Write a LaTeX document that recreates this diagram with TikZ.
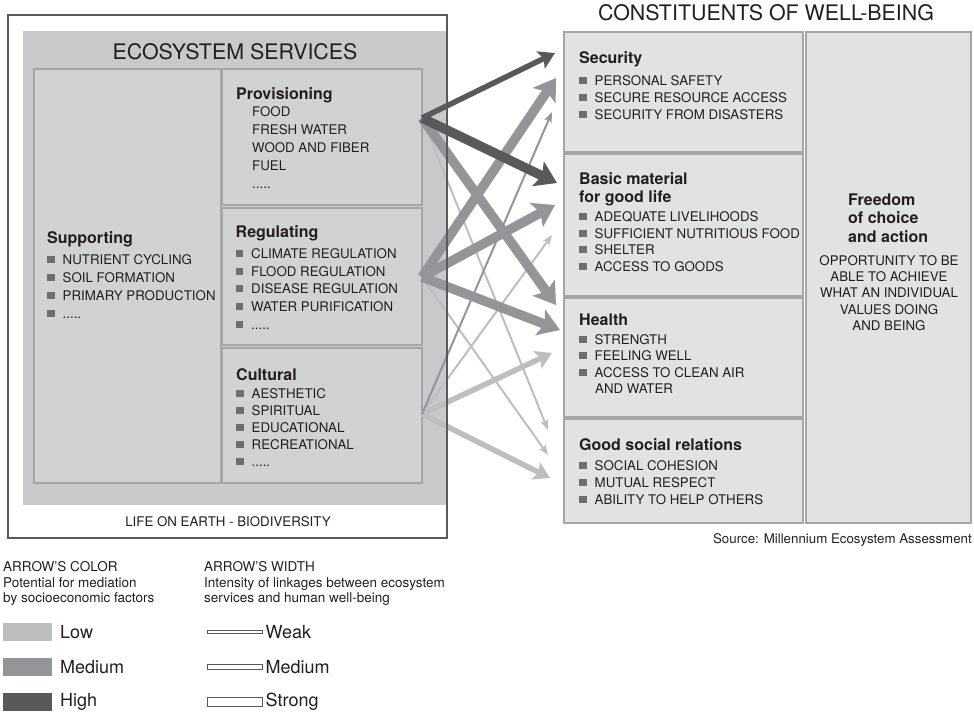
\documentclass[tikz,border=0pt]{standalone}
\usepackage{fontspec}
\setmainfont{TeX Gyre Heros}
\usetikzlibrary{arrows.meta}

\definecolor{ink}{HTML}{231F20}
\definecolor{frameline}{HTML}{58595B}
\definecolor{panel}{HTML}{C8C9CB}
\definecolor{esfill}{HTML}{D1D2D4}
\definecolor{wbfill}{HTML}{E1E2E4}
\definecolor{bevdark}{HTML}{88898B}
\definecolor{bevlight}{HTML}{A5A6A8}
\definecolor{bulletgray}{HTML}{6D6E70}
\definecolor{cLow}{HTML}{BCBEC0}
\definecolor{cMed}{HTML}{939598}
\definecolor{cHigh}{HTML}{58595B}

% small square bullet in front of list entries
\newcommand\sq{\textcolor{bulletgray}{\rule[1.5pt]{7.5pt}{7pt}}\hspace{8pt}}
% open-ended list marker
\newcommand\fivedots{.....}
% a column of text lines: x, first baseline, line step, entries
\newcommand\itemrows[4]{%
  \foreach \txt [count=\k from 0] in {#4} {\node[lbl] at ({#1},{#2+\k*#3}) {\txt};}}

\tikzset{
  x=1pt, y=-1pt,
  lbl/.style={anchor=base west, inner sep=0, text=ink, font=\fontsize{13.3}{15}\selectfont},
  ttl/.style={anchor=base west, inner sep=0, text=ink, font=\fontsize{16}{19}\selectfont\bfseries},
  bigttl/.style={anchor=base, inner sep=0, text=ink, font=\fontsize{21.4}{25}\selectfont},
  legtxt/.style={anchor=base west, inner sep=0, text=ink, font=\fontsize{13.5}{16}\selectfont},
  legbig/.style={anchor=west, inner sep=0, text=ink, font=\fontsize{18}{21}\selectfont},
  bevel/.style={draw=bevdark, double=bevlight, double distance=1.2pt, line width=0.7pt,
    anchor=north west, inner sep=0, outer sep=0},
  esbox/.style={bevel, fill=esfill},
  wbbox/.style={bevel, fill=wbfill},
  swatch/.style={anchor=north west, inner sep=0, outer sep=0, minimum width=49pt, minimum height=18pt},
  widthbar/.style={anchor=west, inner sep=0, outer sep=0, draw=frameline, fill=white,
    line width=0.8pt, minimum width=55pt},
  weakw/.style={line width=2pt, -{Stealth[length=10pt,width=7.5pt,inset=2pt]}},
  medw/.style={line width=5.5pt, -{Stealth[length=16pt,width=19pt,inset=3.5pt]}},
  strongw/.style={line width=9.5pt, -{Stealth[length=21pt,width=27pt,inset=4.5pt]}},
}

\begin{document}
\begin{tikzpicture}
\useasboundingbox (0,0) rectangle (974,715);

% ---------- ecosystem services ----------
\node[anchor=north west, inner sep=0, outer sep=0, fill=white,
  minimum width=439pt, minimum height=523pt] (life) at (8,15) {};
\node[anchor=north west, inner sep=0, outer sep=0, fill=panel,
  minimum width=424pt, minimum height=474pt] (es) at (23,31) {};
\node[bigttl] (esTitle) at (235,59.3) {ECOSYSTEM SERVICES};

\node[esbox, minimum width=187pt, minimum height=414pt] (supp) at (34,69) {};
\node[esbox, minimum width=200pt, minimum height=136pt] (prov) at (222,69) {};
\node[esbox, minimum width=200pt, minimum height=137pt] (regu) at (222,208) {};
\node[esbox, minimum width=200pt, minimum height=135pt] (cult) at (222,348) {};

\node[ttl] (suppT) at (47,243.3) {Supporting};
\itemrows{47}{264.3}{18}{\sq NUTRIENT CYCLING, \sq SOIL FORMATION, \sq PRIMARY PRODUCTION, \sq \fivedots}

\node[ttl] (provT) at (236,99) {Provisioning};
\itemrows{252}{116.7}{17.9}{FOOD, FRESH WATER, WOOD AND FIBER, FUEL, \fivedots}

\node[ttl] (reguT) at (235.5,237.3) {Regulating};
\itemrows{235.5}{258.3}{17.75}{\sq CLIMATE REGULATION, \sq FLOOD REGULATION, \sq DISEASE REGULATION, \sq WATER PURIFICATION, \sq \fivedots}

\node[ttl] (cultT) at (236,380) {Cultural};
\itemrows{236}{398.3}{17.1}{\sq AESTHETIC, \sq SPIRITUAL, \sq EDUCATIONAL, \sq RECREATIONAL, \sq \fivedots}

\node[lbl, anchor=base] (lifeT) at (228,526.7) {LIFE ON EARTH - BIODIVERSITY};

% ---------- constituents of well-being ----------
\node[bigttl] (wbTitle) at (766,20.5) {CONSTITUENTS OF WELL-BEING};

\node[wbbox, minimum width=239pt, minimum height=120pt] (sec) at (564,32) {};
\node[wbbox, minimum width=239pt, minimum height=142pt] (basic) at (564,154) {};
\node[wbbox, minimum width=239pt, minimum height=119pt] (health) at (564,298) {};
\node[wbbox, minimum width=239pt, minimum height=104pt] (social) at (564,419) {};
\node[wbbox, minimum width=165pt, minimum height=491pt] (free) at (806,32) {};

\node[ttl] (secT) at (579,63.3) {Security};
\itemrows{579}{85}{17.2}{\sq PERSONAL SAFETY, \sq SECURE RESOURCE ACCESS, \sq SECURITY FROM DISASTERS}

\node[ttl] (basicT) at (579,184) {Basic material};
\node[ttl] (basicT2) at (579,202.7) {for good life};
\itemrows{579}{221.7}{16.5}{\sq ADEQUATE LIVELIHOODS, \sq SUFFICIENT NUTRITIOUS FOOD, \sq SHELTER, \sq ACCESS TO GOODS}

\node[ttl] (healthT) at (579,325) {Health};
\itemrows{579}{344.3}{16.5}{\sq STRENGTH, \sq FEELING WELL, \sq ACCESS TO CLEAN AIR}
\node[lbl] (healthW) at (595,393.8) {AND WATER};

\node[ttl] (socialT) at (579,450.7) {Good social relations};
\itemrows{579}{470}{17}{\sq SOCIAL COHESION, \sq MUTUAL RESPECT, \sq ABILITY TO HELP OTHERS}

\node[ttl] (freeT1) at (848,205) {Freedom};
\node[ttl] (freeT2) at (848,223.5) {of choice};
\node[ttl] (freeT3) at (848,242.5) {and action};
\foreach \txt [count=\k from 0] in {OPPORTUNITY TO BE, ABLE TO ACHIEVE, WHAT AN INDIVIDUAL, VALUES DOING, AND BEING}
  {\node[lbl, anchor=base] at (889,{265.7+\k*16.1}) {\txt};}

\node[lbl, anchor=base east] (source) at (972,543.3) {Source: Millennium Ecosystem Assessment};

% ---------- linkages ----------
\coordinate (pOut) at (422,118);
\coordinate (rOut) at (422,277);
\coordinate (cOut) at (422,414);

\coordinate (toSecP) at (555,53);
\coordinate (toSecR) at (556,78);
\coordinate (toSecC) at (552,112);
\coordinate (toBasP) at (557,183);
\coordinate (toBasR) at (555,205);
\coordinate (toBasC) at (552,235);
\coordinate (toHeaP) at (556,305);
\coordinate (toHeaR) at (560,330);
\coordinate (toHeaC) at (552,353);
\coordinate (toSocP) at (548,430);
\coordinate (toSocR) at (548,455);
\coordinate (toSocC) at (550,478);

\draw[weakw, cLow] (pOut) -- (toSocP);
\draw[weakw, cLow] (rOut) -- (toSocR);
\draw[weakw, cLow] (cOut) -- (toBasC);
\draw[medw, cLow] (cOut) -- (toHeaC);
\draw[medw, cLow] (cOut) -- (toSocC);
\draw[weakw, cMed] (cOut) -- (toSecC);
\draw[strongw, cMed] (rOut) -- (toSecR);
\draw[strongw, cMed] (rOut) -- (toBasR);
\draw[strongw, cMed] (rOut) -- (toHeaR);
\draw[strongw, cMed] (pOut) -- (toHeaP);
\draw[medw, cHigh] (pOut) -- (toSecP);
\draw[strongw, cHigh] (pOut) -- (toBasP);

% outer frame on top of the crossing arrows
\draw[frameline, line width=1.2pt] (life.north west) rectangle (life.south east);

% ---------- legend ----------
\node[legtxt] (colHead) at (3,571.7) {ARROW'S COLOR};
\node[legtxt] (colL1) at (3,587) {Potential for mediation};
\node[legtxt] (colL2) at (3,602.5) {by socioeconomic factors};
\node[legtxt] (widHead) at (204,571.7) {ARROW'S WIDTH};
\node[legtxt] (widL1) at (204,587) {Intensity of linkages between ecosystem};
\node[legtxt] (widL2) at (204,602.5) {services and human well-being};

\node[swatch, fill=cLow] (swLow) at (3,623) {};
\node[swatch, fill=cMed] (swMed) at (3,658) {};
\node[swatch, fill=cHigh] (swHigh) at (3,693) {};
\node[legbig] at (60,632) {Low};
\node[legbig] at (60,667) {Medium};
\node[legbig] at (60,702) {High};

\node[widthbar, minimum height=3pt] (wWeak) at (207,632) {};
\node[widthbar, minimum height=5pt] (wMed) at (207,667) {};
\node[widthbar, minimum height=9pt] (wStrong) at (207,702) {};
\node[legbig] at (265.5,632) {Weak};
\node[legbig] at (265.5,667) {Medium};
\node[legbig] at (265.5,702) {Strong};
\end{tikzpicture}
\end{document}
